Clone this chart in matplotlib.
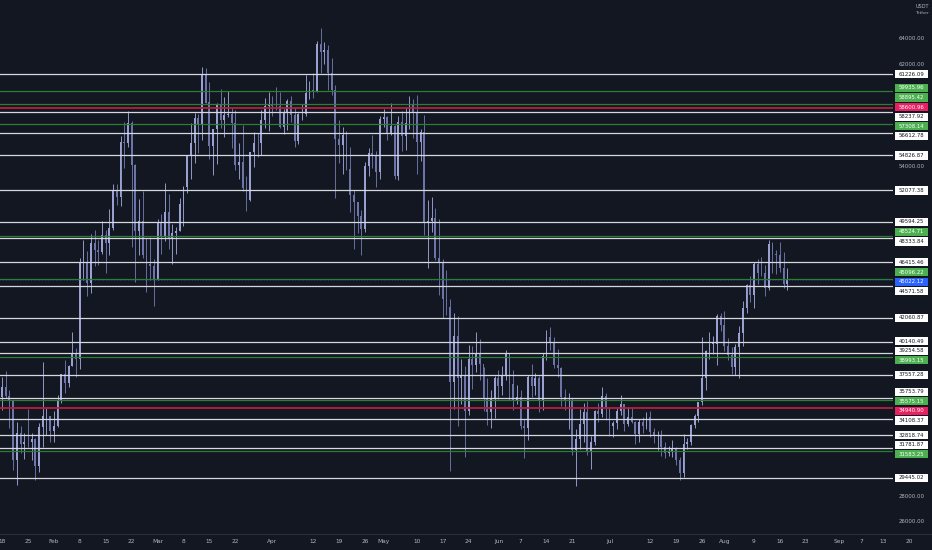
import matplotlib
matplotlib.use('Agg')
import matplotlib.pyplot as plt
from matplotlib.patches import Rectangle
import numpy as np
import pandas as pd

# ---------------- data (BTC/USDT daily) ----------------
start_date = '2021-01-17'
first_open = 36000
highs = [36850, 37400, 37850, 36400, 35550, 33850, 33500, 32950, 34880, 32950, 32560, 33780, 38530, 34930, 34340,
         34720, 35980, 37660, 38700, 38310, 40950, 39700, 46790, 48200, 47310, 48630, 48980, 48150, 49700, 49000,
         50640, 52620, 52550, 56370, 57490, 58350, 57530, 54180, 51370, 52040, 48370, 48420, 46640,
         49790, 50200, 52640, 51770, 49450, 49200, 51450, 52420, 54900, 57400, 58150, 58060, 61800, 61680, 60600,
         56940, 58980, 60100, 59450, 59880, 58600, 58430, 55830, 57200, 53240, 55100, 56640, 56560, 58400, 59370, 59800,
         59490, 60200, 59790, 58500, 59260, 59500, 58650, 58150, 58870, 61200, 60690, 61330, 63820, 64850, 63800,
         63560, 62500, 60400, 57600, 57050, 56760, 55500, 52130, 51170, 50550, 54350, 55450, 56430, 55200, 57960,
         58460, 57950, 58980, 57200, 57940, 58360, 58650, 59500, 59300, 59600, 56880, 58000, 51360, 51590, 50700,
         49800, 46640, 45800, 43550, 42450, 42200, 38830, 38270, 39900, 39800, 40900, 40400, 38200, 37340, 36400, 37500,
         37900, 38230, 39480, 39290, 37900, 36790, 36400, 34070, 37530, 38400, 37700, 37450, 39300, 41060, 41330,
         40530, 39560, 38200, 36450, 36120, 35750, 33300, 34880, 35300, 35500, 32730, 34750, 35300, 36600, 36100,
         35030, 33940, 34950, 35950, 35290, 35060, 35050, 33930, 34090, 34260, 34600, 34680, 33340, 33110, 33180,
         32250, 31950, 32440, 31900, 31050, 32860, 32600, 33650, 34500, 35400, 40550, 39540, 40900, 40640, 42320, 42400,
         42600, 40450, 39780, 39970, 41400, 43390, 44700, 45310, 46450, 46700, 46800, 46200, 48150, 48000, 47380,
         48050, 47200, 46000]
lows = [33850, 34800, 35700, 33400, 30070, 28850, 31400, 30900, 31900, 30840, 29240, 29900, 31900, 32830, 32300,
        32300, 33420, 35360, 36160, 36570, 38220, 37350, 37990, 45000, 43730, 43990, 46130, 46200, 47050, 45570,
        47000, 48950, 50900, 50870, 53860, 55480, 47620, 44890, 47000, 46720, 44110, 45000, 43000,
        45000, 47050, 48100, 47500, 46300, 47070, 48880, 49270, 51850, 53000, 54270, 55000, 56080, 58950, 54570,
        53270, 54120, 57000, 56270, 57820, 55450, 53650, 53000, 52000, 50430, 51280, 53950, 54690, 54900, 57000, 56770,
        57940, 58400, 56960, 56500, 56800, 57500, 55470, 55700, 57650, 57900, 59250, 59360, 59800, 61300, 62020,
        60000, 59600, 51500, 54200, 53400, 53650, 50400, 47500, 48750, 47000, 48800, 53220, 53880, 52330, 53010,
        57060, 56040, 56440, 53000, 52900, 55200, 55250, 56900, 56240, 53400, 54370, 48600, 46000, 48810, 46560,
        43830, 42000, 42250, 30000, 34900, 33500, 35260, 31110, 34420, 36420, 37800, 37180, 34680, 33630, 33380, 34150,
        35670, 35980, 37170, 35570, 34800, 35260, 33330, 31000, 32400, 35780, 35940, 34600, 34760, 38730, 39500,
        38120, 37370, 35130, 34800, 33330, 31250, 28800, 31700, 32300, 31280, 30150, 32000, 33860, 34230, 34000,
        32710, 32700, 33330, 34380, 33130, 33530, 33770, 32080, 32260, 33000, 33320, 32700, 32200, 31600, 31130,
        31020, 31160, 31100, 30480, 29280, 29480, 31700, 32000, 33400, 33840, 35200, 36380, 38770, 39200, 38310, 41000,
        39420, 38690, 37640, 37510, 37330, 39850, 42450, 43260, 42800, 44700, 45330, 43770, 44250, 45600, 45500,
        45660, 44400, 44200]
closes = [35800, 36630, 35890, 35470, 30830, 33000, 32100, 32290, 32250, 32500, 30400, 33420, 34300, 34300, 33100,
          33520, 35480, 37620, 36940, 38290, 39190, 38800, 46370, 46420, 44810, 47970, 47410, 47190, 48590, 47910,
          49130, 52120, 51550, 55900, 55840, 57410, 54090, 48890, 49680, 47010, 46280, 46100, 45140,
          49590, 48440, 50350, 48370, 48750, 48880, 50970, 52380, 54880, 55850, 57770, 57220, 61190, 59000, 55600,
          56900, 58910, 57650, 58030, 58100, 57350, 54100, 54340, 52300, 51300, 55070, 55840, 55780, 57630, 58760, 58800,
          58740, 58720, 57060, 58200, 59120, 57990, 56000, 58090, 58090, 59770, 59960, 59830, 63580, 62960, 63160,
          61330, 60000, 56150, 55660, 56470, 53800, 51700, 51190, 50100, 49060, 54020, 55030, 54840, 53560, 57690,
          57830, 56580, 57170, 53200, 57440, 56400, 57360, 58840, 58280, 55860, 56710, 49500, 49690, 49880, 46760,
          46430, 43540, 42900, 36970, 40600, 37300, 37500, 34700, 38800, 38320, 39240, 38440, 35680, 34610, 35680, 37300,
          36690, 37570, 39190, 36850, 35520, 35800, 33550, 33400, 37390, 36680, 37330, 35550, 39020, 40520, 40140,
          38350, 38090, 35820, 35480, 35600, 31610, 32510, 33680, 34660, 31590, 32280, 34700, 34490, 35910, 35040,
          33510, 33800, 34670, 35290, 33690, 34220, 33870, 32880, 33810, 33520, 34260, 33090, 32730, 32820, 31870,
          31380, 31520, 31780, 30840, 29790, 32140, 32290, 33580, 34290, 35400, 37270, 39460, 40000, 40010, 42200, 41460,
          39850, 39150, 38200, 39720, 40870, 42840, 44610, 43810, 46290, 45600, 45550, 44430, 47830, 47100, 47020,
          45940, 44700, 45022.12]

level_prices = [61226.09, 59935.96, 58895.42, 58600.96, 58237.92, 57308.14, 56612.78, 54826.87, 52077.38,
                49594.25, 48524.71, 48333.84, 46415.46, 45096.22, 44571.58, 42060.87, 40140.49, 39254.58,
                38993.15, 37557.28, 35753.79, 35575.15, 34940.90, 34108.37, 32818.74, 31781.87, 31583.25, 29445.02]
level_kinds = ['w', 'g', 'g', 'r', 'w', 'g', 'w', 'w', 'w',
               'w', 'g', 'w', 'w', 'g', 'w', 'w', 'w', 'w',
               'g', 'w', 'w', 'g', 'r', 'w', 'w', 'w', 'g', 'w']

axis_prices = list(range(26000, 66001, 2000))

tick_dates = ['2021-01-18', '2021-01-25', '2021-02-01', '2021-02-08', '2021-02-15', '2021-02-22',
              '2021-03-01', '2021-03-08', '2021-03-15', '2021-03-22', '2021-04-01', '2021-04-12',
              '2021-04-19', '2021-04-26', '2021-05-01', '2021-05-10', '2021-05-17', '2021-05-24',
              '2021-06-01', '2021-06-07', '2021-06-14', '2021-06-21', '2021-07-01', '2021-07-12',
              '2021-07-19', '2021-07-26', '2021-08-01', '2021-08-09', '2021-08-16', '2021-08-23',
              '2021-09-01', '2021-09-07', '2021-09-13', '2021-09-20']
tick_labels = ['18', '25', 'Feb', '8', '15', '22', 'Mar', '8', '15', '22', 'Apr', '12', '19', '26',
               'May', '10', '17', '24', 'Jun', '7', '14', '21', 'Jul', '12', '19', '26', 'Aug', '9',
               '16', '23', 'Sep', '7', '13', '20']

# ---------------- layout / style ----------------
W, H = 932, 550
BG = '#131722'
TXT = '#b2b5be'
PXD = 3.704            # pixels per day
PX_PER_1000 = 12.7     # pixels per 1000 USDT
PLOT_W, PLOT_H, AXIS_H = 893, 533, 17
ref = pd.Timestamp('2021-01-18')
x0 = -2 / PXD
ymax = 64000 + 39 / PX_PER_1000 * 1000
ymin = ymax - PLOT_H / PX_PER_1000 * 1000
P_PER_PX = 1000 / PX_PER_1000

plt.rcParams['font.family'] = ['DejaVu Sans']
fig = plt.figure(figsize=(W / 100, H / 100), dpi=100, facecolor=BG)

ax = fig.add_axes([0, AXIS_H / H, PLOT_W / W, PLOT_H / H])
ax.set_facecolor(BG)
ax.set_xlim(x0, x0 + PLOT_W / PXD)
ax.set_ylim(ymin, ymax)
ax.axis('off')

# candles
dates = pd.date_range(start_date, periods=len(closes), freq='D')
days = np.array([(d - ref).days for d in dates], float)
c = np.array(closes, float)
o = np.array([first_open] + closes[:-1], float)
hi = np.array(highs, float)
lo = np.array(lows, float)
up = c >= o
col = np.where(up, '#9aa1d2', '#6d75a8')
ax.vlines(days, lo, hi, colors=col, linewidth=0.65, zorder=2)
body = np.maximum(np.abs(c - o), 40)
ax.bar(days, body, bottom=np.minimum(o, c), width=0.5, color=col, linewidth=0, zorder=2)

# level lines
line_col = {'w': '#d6d8de', 'g': '#2e7d32', 'r': '#b3203f'}
line_lw = {'w': 0.9, 'g': 0.9, 'r': 1.3}
for p, k in zip(level_prices, level_kinds):
    ax.axhline(p, color=line_col[k], linewidth=line_lw[k], zorder=3)
last_price = closes[-1]
ax.axhline(last_price, color='#2962ff', linewidth=0.5, linestyle=(0, (1, 3)), alpha=0.7, zorder=3)

# ---------------- right price axis ----------------
axr = fig.add_axes([PLOT_W / W, AXIS_H / H, (W - PLOT_W) / W, PLOT_H / H])
axr.set_facecolor(BG)
axr.set_xlim(0, W - PLOT_W)
axr.set_ylim(ymin, ymax)
axr.axis('off')

lab_prices = level_prices + [last_price]
lab_kinds = level_kinds + ['b']
box_face = {'w': '#ffffff', 'g': '#4caf50', 'r': '#e91e63', 'b': '#2962ff'}
box_text = {'w': '#131722', 'g': '#ffffff', 'r': '#ffffff', 'b': '#ffffff'}


def spread(vals, gap, iters=2000):
    vals = np.asarray(vals, float)
    order = np.argsort(vals)
    pos = vals[order].copy()
    for _ in range(iters):
        moved = False
        for i in range(len(pos) - 1):
            g = pos[i + 1] - pos[i]
            if g < gap - 1e-6:
                d = (gap - g) / 2
                pos[i] -= d
                pos[i + 1] += d
                moved = True
        if not moved:
            break
    out = np.empty_like(pos)
    out[order] = pos
    return out


label_gap = 9.6 * P_PER_PX
lab_pos = spread(lab_prices, label_gap)
box_h = 8.2 * P_PER_PX

top_limit = ymax - 24 * P_PER_PX   # keep clear of the currency caption
for p in axis_prices:
    if ymin < p < top_limit and np.min(np.abs(lab_pos - p)) > 9.5 * P_PER_PX:
        axr.text(18.5, p, f'{p:.2f}', color=TXT, fontsize=3.9, ha='center', va='center')

for p, yp, k in zip(lab_prices, lab_pos, lab_kinds):
    axr.add_patch(Rectangle((2, yp - box_h / 2), 33, box_h, facecolor=box_face[k],
                            edgecolor='none', zorder=4))
    axr.text(18.5, yp, f'{p:.2f}', color=box_text[k], fontsize=3.9, ha='center',
             va='center', zorder=5)

fig.text((W - 10) / W, 1 - 7 / H, 'USDT', color=TXT, fontsize=3.6, ha='center', va='center')
fig.text((W - 10) / W, 1 - 13.5 / H, 'Tether', color=TXT, fontsize=3.2, ha='center', va='center')

# ---------------- bottom time axis ----------------
axb = fig.add_axes([0, 0, 1, AXIS_H / H])
axb.set_facecolor(BG)
axb.set_xlim(x0, x0 + W / PXD)
axb.set_ylim(0, AXIS_H)
axb.axis('off')
axb.axhline(AXIS_H - 0.5, color='#2a2e39', linewidth=0.8)
tick_days = [(pd.Timestamp(d) - ref).days for d in tick_dates]
for d, t in zip(tick_days, tick_labels):
    axb.text(d, 8.5, t, color=TXT, fontsize=4.2, ha='center', va='center')

fig.savefig('out.png', dpi=100, facecolor=BG)
